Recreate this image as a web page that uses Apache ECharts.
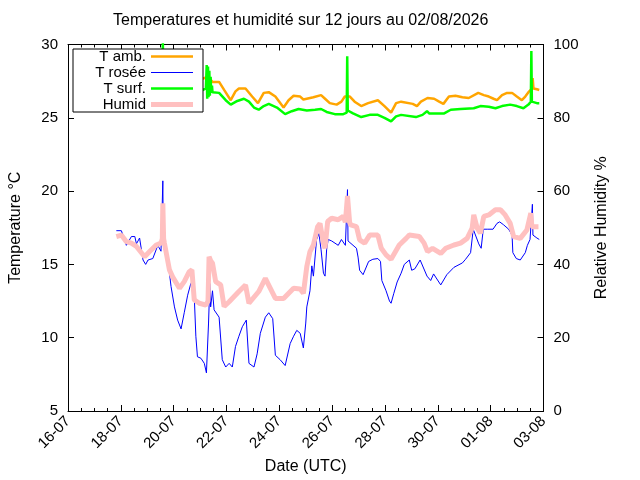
<!DOCTYPE html>
<html>
<head>
<meta charset="utf-8">
<script src="https://cdn.jsdelivr.net/npm/echarts@6/dist/echarts.min.js"></script>
<style>
  html, body { margin: 0; padding: 0; background: #fff; }
  #chart { width: 640px; height: 480px; }
</style>
</head>
<body>
<div id="chart"></div>
<script>
// temps en jours depuis le 16-07 00:00 UTC
const dateLabels = ['16-07', '18-07', '20-07', '22-07', '24-07', '26-07', '28-07', '30-07', '01-08', '03-08']

const tAmb = [
  [1.83, 27.8], [2.3, 28.0], [2.8, 27.6], [3.3, 27.9], [3.59, 28.2], [4.0, 27.7], [4.5, 28.0], [5.0, 27.6],
  [5.3, 27.8], [5.47, 27.45], [5.72, 27.45], [5.91, 26.9], [6.16, 26.2], [6.34, 26.8], [6.47, 27.0],
  [6.72, 27.0], [6.97, 26.45], [7.19, 26.0], [7.41, 26.7], [7.60, 26.75], [7.85, 26.45], [8.16, 25.7],
  [8.35, 26.2], [8.54, 26.5], [8.79, 26.45], [8.91, 26.25], [9.29, 26.4], [9.58, 26.55], [9.73, 26.3],
  [9.91, 26.0], [10.17, 25.9], [10.35, 26.1], [10.48, 26.45], [10.67, 26.45], [10.85, 26.1], [11.10, 25.8],
  [11.36, 26.0], [11.73, 26.2], [11.98, 25.8], [12.23, 25.35], [12.42, 26.0], [12.61, 26.1], [13.05, 25.95],
  [13.21, 25.8], [13.36, 26.1], [13.61, 26.35], [13.86, 26.3], [14.05, 26.1], [14.21, 25.95], [14.42, 26.45],
  [14.67, 26.5], [14.93, 26.4], [15.17, 26.35], [15.53, 26.7], [15.74, 26.55], [15.93, 26.45], [16.11, 26.3],
  [16.24, 26.2], [16.43, 26.55], [16.62, 26.7], [16.81, 26.7], [16.99, 26.45], [17.18, 26.2], [17.31, 26.45],
  [17.43, 26.75], [17.57, 27.0], [17.59, 27.7], [17.62, 27.0], [17.75, 26.95], [17.84, 26.9]
]

const tRosee = [
  [1.83, 17.3], [2.02, 17.3], [2.21, 16.3], [2.40, 16.9], [2.53, 16.9], [2.59, 16.4], [2.71, 16.8],
  [2.84, 15.3], [2.94, 15.0], [3.03, 15.3], [3.21, 15.4], [3.40, 16.3], [3.52, 15.9], [3.57, 16.0],
  [3.59, 20.7], [3.61, 16.3], [3.65, 16.3], [3.84, 14.4], [3.90, 13.5], [4.03, 12.1], [4.15, 11.2],
  [4.28, 10.6], [4.40, 11.7], [4.53, 12.9], [4.65, 13.7], [4.72, 13.9], [4.78, 12.8], [4.84, 10.1],
  [4.90, 8.7], [5.03, 8.6], [5.16, 8.25], [5.24, 7.6], [5.32, 11.0], [5.37, 13.7], [5.40, 12.1],
  [5.47, 13.2], [5.53, 11.9], [5.72, 11.4], [5.84, 8.5], [5.97, 8.0], [6.10, 8.25], [6.22, 8.0],
  [6.34, 9.4], [6.47, 10.1], [6.60, 10.75], [6.75, 11.2], [6.85, 8.25], [7.04, 8.0], [7.16, 8.9],
  [7.28, 10.3], [7.47, 11.4], [7.60, 11.7], [7.75, 11.3], [7.85, 8.8], [8.03, 8.5], [8.22, 8.1],
  [8.41, 9.6], [8.54, 10.1], [8.66, 10.5], [8.79, 10.3], [8.91, 9.3], [9.00, 11.0], [9.04, 12.1],
  [9.16, 13.2], [9.23, 14.9], [9.29, 14.2], [9.41, 16.7], [9.50, 17.1], [9.58, 16.0], [9.67, 14.4],
  [9.73, 14.2], [9.79, 16.0], [9.85, 16.7], [9.98, 16.6], [10.23, 16.3], [10.35, 16.7], [10.50, 16.3],
  [10.56, 16.4], [10.58, 20.1], [10.60, 16.6], [10.67, 16.7], [10.92, 16.1], [10.98, 15.5], [11.04, 14.6],
  [11.17, 14.3], [11.38, 15.2], [11.54, 15.35], [11.73, 15.4], [11.83, 15.2], [11.88, 13.9], [12.04, 13.2],
  [12.17, 12.5], [12.23, 12.35], [12.33, 13.0], [12.46, 13.8], [12.61, 14.4], [12.73, 15.0], [12.92, 15.3],
  [13.01, 14.6], [13.13, 14.7], [13.33, 15.3], [13.59, 14.2], [13.73, 13.9], [13.84, 14.35], [14.11, 13.6],
  [14.34, 14.3], [14.61, 14.8], [14.93, 15.1], [15.05, 15.35], [15.24, 15.8], [15.34, 17.4], [15.55, 16.4],
  [15.64, 16.1], [15.72, 17.4], [15.87, 17.4], [16.09, 17.4], [16.24, 17.8], [16.34, 17.9], [16.49, 17.7],
  [16.68, 17.4], [16.81, 17.0], [16.84, 15.8], [16.97, 15.4], [17.12, 15.3], [17.31, 15.8], [17.39, 16.3],
  [17.49, 16.7], [17.56, 16.8], [17.58, 19.1], [17.60, 17.0], [17.64, 17.0], [17.75, 16.8], [17.84, 16.7]
]

const tSurf = [
  [1.83, 26.9], [2.3, 27.1], [2.8, 26.8], [3.3, 27.0], [3.57, 27.0], [3.59, 30.3], [3.61, 27.0], [4.0, 26.7],
  [4.5, 26.9], [5.0, 26.8], [5.22, 27.0], [5.25, 28.6], [5.27, 26.3], [5.30, 28.5], [5.32, 26.4], [5.35, 28.2],
  [5.37, 26.5], [5.40, 27.8], [5.42, 26.7], [5.45, 27.2], [5.47, 26.75], [5.72, 26.7], [5.97, 26.2],
  [6.16, 25.9], [6.41, 26.15], [6.66, 26.3], [6.85, 26.1], [7.04, 25.7], [7.22, 25.55], [7.41, 25.8],
  [7.60, 25.95], [7.91, 25.7], [8.22, 25.25], [8.47, 25.45], [8.73, 25.6], [9.04, 25.5], [9.35, 25.55],
  [9.58, 25.6], [9.79, 25.4], [10.10, 25.25], [10.42, 25.25], [10.55, 25.35], [10.57, 29.2], [10.59, 25.5],
  [10.79, 25.3], [11.10, 25.05], [11.42, 25.2], [11.73, 25.2], [11.98, 25.0], [12.23, 24.75], [12.42, 25.1],
  [12.61, 25.2], [13.17, 25.05], [13.42, 25.2], [13.59, 25.45], [13.67, 25.3], [14.24, 25.3], [14.49, 25.55],
  [14.86, 25.6], [15.36, 25.65], [15.61, 25.8], [15.93, 25.75], [16.18, 25.65], [16.43, 25.8], [16.74, 25.9],
  [16.99, 25.8], [17.24, 25.65], [17.43, 25.9], [17.52, 26.1], [17.54, 29.55], [17.56, 26.1], [17.75, 26.0],
  [17.84, 26.0]
]

const humid = [
  [1.83, 47.6], [2.02, 48.0], [2.21, 46.2], [2.40, 45.8], [2.59, 44.9], [2.90, 42.1], [3.09, 43.5],
  [3.34, 45.3], [3.52, 45.8], [3.57, 47.0], [3.59, 56.7], [3.62, 47.0], [3.65, 45.8], [3.84, 38.5],
  [3.96, 36.6], [4.22, 33.5], [4.40, 35.3], [4.59, 38.0], [4.69, 38.5], [4.78, 30.3], [4.97, 29.4],
  [5.22, 28.9], [5.30, 30.0], [5.34, 42.1], [5.40, 41.0], [5.47, 40.3], [5.59, 35.3], [5.78, 34.4],
  [5.91, 28.5], [6.10, 29.8], [6.47, 32.6], [6.72, 34.4], [6.85, 29.4], [7.22, 32.6], [7.47, 36.2],
  [7.85, 30.7], [8.16, 30.7], [8.54, 33.5], [8.79, 33.3], [8.91, 32.1], [9.04, 39.4], [9.16, 43.5],
  [9.29, 45.3], [9.45, 50.3], [9.54, 51.2], [9.67, 45.8], [9.73, 44.4], [9.83, 51.7], [9.98, 52.6],
  [10.23, 52.2], [10.42, 53.1], [10.50, 51.5], [10.58, 58.7], [10.66, 51.5], [10.70, 50.8], [10.92, 50.3],
  [11.04, 46.7], [11.23, 45.8], [11.42, 48.0], [11.73, 48.0], [11.86, 44.4], [12.04, 42.6], [12.23, 41.4],
  [12.54, 45.3], [12.80, 47.1], [12.92, 48.0], [13.30, 47.6], [13.48, 45.8], [13.61, 43.5], [13.80, 44.4],
  [14.11, 43.0], [14.30, 44.4], [14.61, 45.3], [14.86, 45.8], [15.11, 47.1], [15.30, 49.9], [15.36, 53.5],
  [15.49, 49.9], [15.61, 48.5], [15.74, 53.1], [15.93, 53.5], [16.18, 54.9], [16.37, 54.9], [16.55, 53.5],
  [16.74, 51.2], [16.87, 47.6], [17.12, 47.1], [17.37, 49.4], [17.52, 54.0], [17.56, 50.3], [17.81, 50.3]
]

const FONT = 'Liberation Sans'
const black = '#000'

// axe des dates (bas + miroir en haut)
const dateAxis = (position, withLabels) => ({
    type: 'value',
    position,
    min: 0,
    max: 18,
    interval: 2,
    axisLine: { show: true, onZero: false, lineStyle: { color: black, width: 1 } },
    axisTick: { show: true, inside: true, length: 6, lineStyle: { color: black } },
    minorTick: { show: true, splitNumber: 4, length: 3, lineStyle: { color: black } },
    splitLine: { show: false },
    axisLabel: {
        show: withLabels,
        rotate: 45,
        margin: 8,
        fontSize: 15,
        fontFamily: FONT,
        color: black,
        formatter: v => dateLabels[Math.round(v / 2)]
    },
    name: withLabels ? 'Date (UTC)' : '',
    nameLocation: 'middle',
    nameGap: 47,
    nameTextStyle: { fontSize: 16, fontFamily: FONT, color: black }
})

const valueAxis = (position, min, max, interval, name, nameGap) => ({
    type: 'value',
    position,
    min,
    max,
    interval,
    axisLine: { show: true, onZero: false, lineStyle: { color: black, width: 1 } },
    axisTick: { show: true, inside: true, length: 6, lineStyle: { color: black } },
    splitLine: { show: false },
    axisLabel: { margin: 10, fontSize: 15, fontFamily: FONT, color: black },
    name,
    nameLocation: 'middle',
    nameGap,
    nameTextStyle: { fontSize: 16, fontFamily: FONT, color: black }
})

const lineSeries = (name, data, color, width, yAxisIndex) => ({
    name,
    type: 'line',
    data,
    yAxisIndex,
    xAxisIndex: 0,
    showSymbol: false,
    symbol: 'none',
    smooth: false,
    clip: true,
    lineStyle: { color, width, join: 'bevel' },
    itemStyle: { color }
})

// échantillon de légende : trait plein de l'épaisseur de la courbe
const legendItem = (name, color, width) => ({
    name,
    icon: 'path://M0,0H42V' + width + 'H0Z',
    itemStyle: { color, borderWidth: 0 }
})

const chart = echarts.init(document.getElementById('chart'), null, { renderer: 'canvas' })
chart.setOption({
    animation: false,
    backgroundColor: '#fff',
    title: {
        text: 'Temperatures et humidité sur 12 jours au 02/08/2026',
        left: 113,
        top: 13,
        padding: 0,
        textStyle: { fontSize: 16, fontWeight: 'normal', fontFamily: FONT, color: black }
    },
    grid: { left: 64.5, right: 96.5, top: 44.5, bottom: 69, containLabel: false },
    legend: {
        orient: 'vertical',
        left: 73,
        top: 49,
        align: 'right',
        padding: [0, 10, 0, 3],
        itemWidth: 42,
        itemHeight: 10,
        itemGap: 1,
        symbolKeepAspect: true,
        backgroundColor: '#fff',
        borderColor: black,
        borderWidth: 1,
        borderRadius: 0,
        selectedMode: false,
        formatter: name => '{a|' + name + '}',
        textStyle: {
            fontFamily: FONT,
            fontSize: 15,
            color: black,
            rich: { a: { width: 70, align: 'right', lineHeight: 12, fontSize: 15, fontFamily: FONT } }
        },
        data: [
            legendItem('T amb.', '#ffa500', 2.5),
            legendItem('T rosée', '#0000ff', 1.2),
            legendItem('T surf.', '#00ff00', 2.5),
            legendItem('Humid', '#ffc0c0', 5)
        ]
    },
    xAxis: [dateAxis('bottom', true), dateAxis('top', false)],
    yAxis: [
        valueAxis('left', 5, 30, 5, 'Temperature °C', 44),
        valueAxis('right', 0, 100, 20, 'Relative Humidity %', 50)
    ],
    series: [
        lineSeries('T amb.', tAmb, '#ffa500', 2.5, 0),
        lineSeries('T rosée', tRosee, '#0000ff', 1, 0),
        lineSeries('T surf.', tSurf, '#00ff00', 2.5, 0),
        lineSeries('Humid', humid, '#ffc0c0', 5, 1)
    ]
})
</script>
</body>
</html>
